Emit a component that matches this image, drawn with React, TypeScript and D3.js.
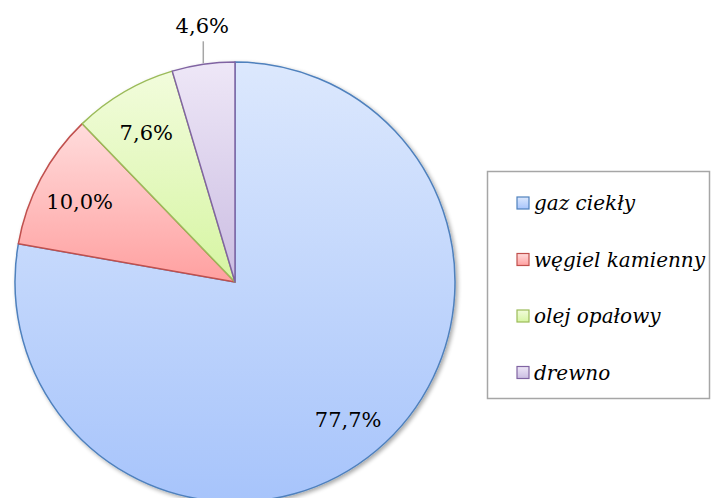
import React from "react";
import * as d3 from "d3";

const categories = ["gaz ciekły", "węgiel kamienny", "olej opałowy", "drewno"];
const values = [77.7, 10.0, 7.6, 4.6];
const labels = ["77,7%", "10,0%", "7,6%", "4,6%"];
const strokes = ["#4f81bd", "#c0504d", "#9bbb59", "#8064a2"];
const gradTop = ["#dce8fd", "#ffdcdc", "#f2fcdc", "#eee7f7"];
const gradBottom = ["#a7c4fb", "#ffa0a0", "#d6f5a2", "#cbbde2"];

const W = 712;
const H = 498;
const cx = 235;
const cy = 282;
const R = 220;

export default function App() {
  const pie = d3.pie<number>().sort(null).value((d) => d);
  const arcs = pie(values);
  const arc = d3.arc<d3.PieArcDatum<number>>().innerRadius(0).outerRadius(R);
  const labelArc = d3.arc<d3.PieArcDatum<number>>().innerRadius(176).outerRadius(176);
  const font = "'DejaVu Serif', serif";

  return (
    <svg width={W} height={H} style={{ position: "absolute", left: 0, top: 0, background: "#fff" }}>
      <defs>
        {categories.map((c, i) => (
          <linearGradient key={c} id={`g${i}`} x1="0" y1="0" x2="0" y2="1">
            <stop offset="0" stopColor={gradTop[i]} />
            <stop offset="1" stopColor={gradBottom[i]} />
          </linearGradient>
        ))}
        <filter id="sh" x="-10%" y="-10%" width="120%" height="120%">
          <feGaussianBlur in="SourceAlpha" stdDeviation="2" />
          <feOffset dx="2" dy="2" result="b" />
          <feComponentTransfer>
            <feFuncA type="linear" slope="0.35" />
          </feComponentTransfer>
          <feMerge>
            <feMergeNode />
            <feMergeNode in="SourceGraphic" />
          </feMerge>
        </filter>
      </defs>
      <g transform={`translate(${cx},${cy})`}>
        <g filter="url(#sh)">
          {arcs.map((a, i) => (
            <path key={i} d={arc(a) || ""} fill={`url(#g${i})`} stroke={strokes[i]} strokeWidth={1.5} strokeLinejoin="round" />
          ))}
        </g>
        {arcs.map((a, i) => {
          if (i === 3) {
            const mid = (a.startAngle + a.endAngle) / 2;
            const x = R * Math.sin(mid);
            const y = -R * Math.cos(mid);
            return (
              <g key={i}>
                <line x1={x} y1={y - 1} x2={x} y2={y - 23} stroke="#a6a6a6" strokeWidth={1.5} />
                <text x={x - 1} y={y - 31} textAnchor="middle" fontFamily={font} fontSize={21} fill="#000">
                  {labels[i]}
                </text>
              </g>
            );
          }
          const [lx, ly] = labelArc.centroid(a);
          return (
            <text key={i} x={lx} y={ly + 3} textAnchor="middle" dominantBaseline="central" fontFamily={font} fontSize={21} fill="#000">
              {labels[i]}
            </text>
          );
        })}
      </g>
      <rect x={487.5} y={171.5} width={222} height={227} fill="#fff" stroke="#a6a6a6" strokeWidth={1.5} />
      {categories.map((c, i) => {
        const y = 203 + i * 56.5;
        return (
          <g key={c}>
            <rect x={517} y={y - 6} width={12} height={12} fill={`url(#g${i})`} stroke={strokes[i]} strokeWidth={1.2} />
            <text x={534} y={y} dominantBaseline="central" fontFamily={font} fontStyle="italic" fontSize={20} fill="#000">
              {c}
            </text>
          </g>
        );
      })}
    </svg>
  );
}
